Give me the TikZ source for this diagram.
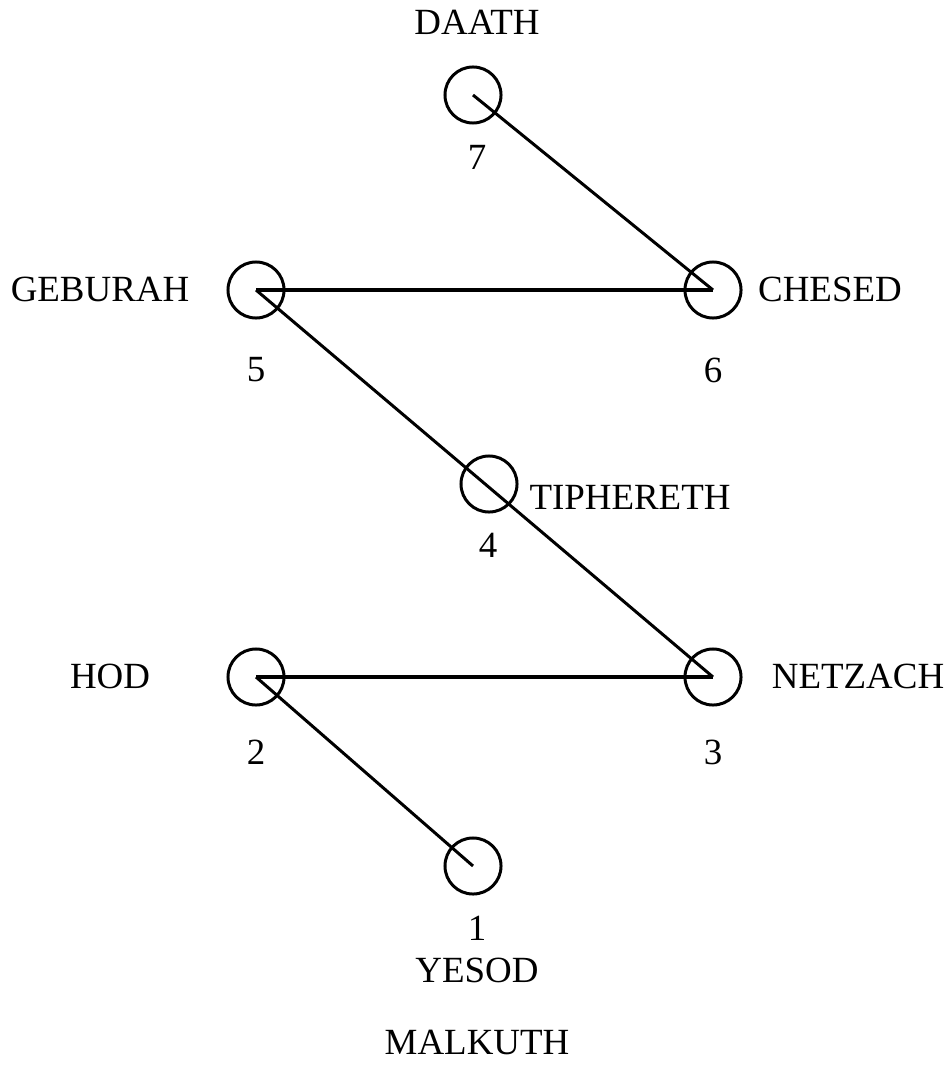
\documentclass[tikz,border=0pt]{standalone}
\usepackage{fontspec}
\setmainfont{Liberation Serif}
\begin{document}
\begin{tikzpicture}[x=0.01cm, y=-0.01cm, font=\fontsize{10.5}{12}\selectfont]
    \useasboundingbox (0,0) rectangle (950,1070);
    \tikzset{sefira/.style={draw, circle, line width=0.85pt, minimum size=0.56cm, inner sep=0pt}}
    
    % Các sephiroth
    \node[sefira] (s7) at (473,95) {};
    \node[sefira] (s5) at (256,290) {};
    \node[sefira] (s6) at (713,290) {};
    \node[sefira] (s4) at (489,484) {};
    \node[sefira] (s2) at (256,677) {};
    \node[sefira] (s3) at (713,677) {};
    \node[sefira] (s1) at (473,866) {};
    
    % Đường nối
    \draw[line width=0.85pt] (s7.center) -- (s6.center);
    \draw[line width=1.4pt] (s5.center) -- (s6.center);
    \draw[line width=0.85pt] (s5.center) -- (s3.center);
    \draw[line width=1.4pt] (s2.center) -- (s3.center);
    \draw[line width=0.85pt] (s2.center) -- (s1.center);
    
    % Số thứ tự
    \node (n7) at (477,157) {7};
    \node (n5) at (256,370) {5};
    \node (n6) at (713,370) {6};
    \node (n4) at (488,545) {4};
    \node (n2) at (256,752) {2};
    \node (n3) at (713,752) {3};
    \node (n1) at (477,928) {1};
    
    % Tên
    \node (daath) at (477,22) {DAATH};
    \node (geburah) at (100,289) {GEBURAH};
    \node (chesed) at (830,289) {CHESED};
    \node (tiphereth) at (630,497) {TIPHERETH};
    \node (hod) at (110,676) {HOD};
    \node (netzach) at (858,676) {NETZACH};
    \node (yesod) at (477,970) {YESOD};
    \node (malkuth) at (477,1042) {MALKUTH};
\end{tikzpicture}
\end{document}
